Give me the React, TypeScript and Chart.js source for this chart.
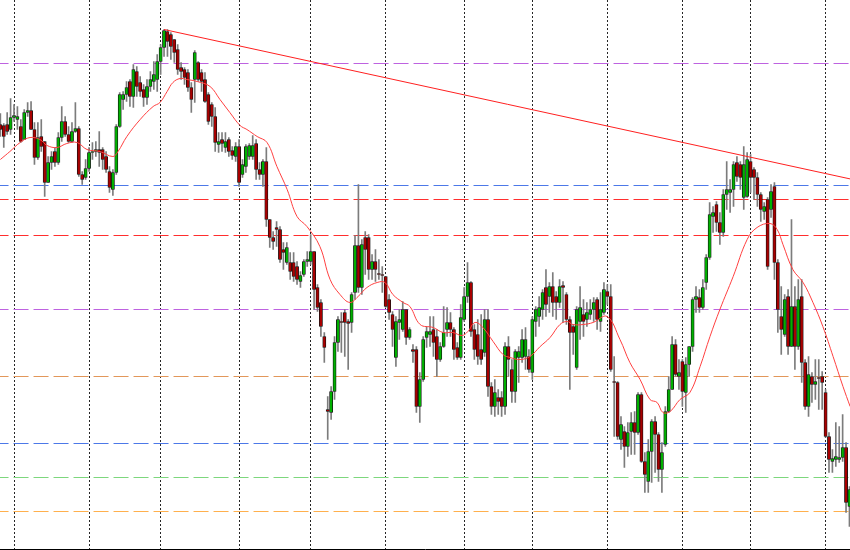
import React, { useEffect, useRef } from "react";
import { Chart, registerables } from "chart.js";
Chart.register(...registerables);

// Daily candles (price in points)
const opens = [
  425,424,425,420,432,430,423,410,437,439,
  420,392,413,408,367,387,398,387,412,428,
  415,408,418,421,375,372,381,397,398,400,
  400,393,378,360,377,423,450,455,468,453,
  478,467,460,452,463,468,470,488,502,518,
  515,510,500,482,480,477,462,470,487,477,
  470,455,445,433,405,410,402,410,399,393,
  403,375,383,393,393,406,380,375,388,330,
  312,322,320,300,287,287,287,283,268,275,
  288,288,298,262,247,213,140,137,158,207,
  228,237,228,227,257,304,262,312,312,280,
  288,276,275,273,250,235,192,227,220,240,
  212,200,200,143,170,212,215,220,213,190,
  203,220,227,220,202,192,230,253,267,220,
  215,200,197,230,163,143,152,152,143,203,
  180,158,192,192,193,193,177,228,233,240,
  262,253,263,253,247,264,255,230,223,182,
  228,235,230,235,240,250,228,237,258,253,
  168,167,110,118,103,118,127,117,155,88,
  68,98,128,115,80,105,138,160,205,173,
  188,157,185,203,250,252,242,267,292,333,
  345,327,317,355,357,360,387,385,352,353,
  388,380,372,355,338,350,340,363,287,233,
  215,253,203,243,203,253,187,143,173,165,
  172,173,157,113,88,90,90,92,102,43,
];
const highs = [
  436,426,437,451,445,443,430,440,447,448,
  427,427,430,408,393,398,402,417,443,433,
  423,427,447,423,378,390,402,407,408,418,
  402,398,383,380,425,457,458,468,470,485,
  483,473,465,470,478,488,495,505,520,520,
  517,510,505,487,482,480,467,499,488,480,
  477,457,447,442,417,417,417,412,403,407,
  410,390,405,406,414,410,387,390,402,330,
  318,328,323,307,307,297,297,288,278,290,
  298,315,298,265,250,217,153,163,213,233,
  237,240,230,257,314,365,310,318,315,295,
  300,290,283,273,255,238,233,240,248,240,
  222,205,203,177,213,223,233,233,220,207,
  243,242,237,222,207,245,262,287,268,225,
  230,235,240,240,167,170,160,158,207,213,
  190,200,203,220,222,200,233,243,253,260,
  280,267,277,258,270,268,257,233,225,243,
  263,250,247,250,252,252,257,267,265,265,
  193,168,133,123,127,137,138,157,157,97,
  110,130,133,117,107,143,173,213,210,190,
  190,192,203,252,263,260,270,295,347,343,
  348,337,360,388,370,388,393,388,403,397,
  395,382,377,357,347,352,365,367,290,263,
  255,260,330,263,270,270,190,193,177,190,
  190,178,160,117,100,127,123,135,107,63,
];
const lows = [
  413,402,415,415,428,420,407,410,433,420,
  385,390,398,353,367,380,383,385,408,413,
  407,407,417,373,365,370,378,390,393,383,
  380,377,357,354,375,422,440,448,443,442,
  453,453,443,445,458,460,458,475,493,493,
  490,487,475,470,465,458,437,447,468,458,
  447,425,423,398,397,398,397,393,390,388,
  363,372,377,390,390,370,370,363,323,302,
  300,303,287,280,285,270,268,265,262,273,
  283,285,240,238,213,187,110,130,150,198,
  197,193,180,217,250,257,255,275,270,270,
  268,270,257,242,230,203,183,210,218,205,
  210,187,137,127,168,202,203,193,173,188,
  202,213,213,190,190,190,228,247,213,190,
  185,185,193,153,135,133,135,133,135,173,
  147,147,167,187,180,177,170,213,223,230,
  233,237,233,230,242,227,225,160,195,180,
  210,213,223,230,228,220,218,235,245,178,
  113,110,100,82,93,95,95,115,87,57,
  57,67,77,68,57,103,137,160,173,160,
  143,137,173,198,237,237,240,260,290,317,
  318,305,313,340,337,343,368,360,340,352,
  357,350,343,328,330,280,332,270,217,195,
  213,195,203,180,200,167,140,133,147,150,
  140,140,112,77,77,83,87,88,37,23,
];
const closes = [
  420,413,418,432,434,433,408,437,439,420,
  392,412,403,367,387,393,387,412,428,415,
  408,418,421,375,370,381,397,398,400,397,
  390,380,362,377,423,455,455,462,453,480,
  463,458,452,463,470,475,488,502,519,508,
  503,497,480,478,472,462,450,497,470,468,
  448,428,433,407,408,406,408,398,394,403,
  367,385,403,404,404,380,375,388,330,312,
  308,320,290,297,302,278,273,270,274,288,
  290,298,260,242,223,202,138,158,207,230,
  227,227,226,255,304,262,305,300,280,288,
  280,275,274,243,237,220,228,230,240,212,
  220,198,143,170,210,218,218,207,190,203,
  217,227,220,200,192,232,253,267,218,200,
  193,190,230,163,143,157,148,143,203,190,
  158,198,198,210,210,180,230,240,242,257,
  245,263,247,247,263,262,230,217,217,240,
  242,228,237,240,247,230,240,260,253,180,
  167,113,125,103,117,127,117,155,88,75,
  98,128,115,80,97,138,160,205,175,177,
  158,185,203,250,253,242,262,292,335,337,
  327,317,355,360,360,385,373,372,385,390,
  372,372,355,340,343,283,358,287,240,220,
  250,203,243,203,250,187,143,175,165,168,
  171,167,113,90,91,93,92,102,47,60,
];

// Bar indices where a new month starts (vertical separators)
const monthStarts = [4, 26, 47, 70, 91, 113, 136, 156, 178, 200, 220, 242];

// Moving average (bar index, value)
const maIdx = [
  0,2.8,5.8,8.7,11.6,13.7,16.6,19.5,22.5,25.4,
  29.2,33,34.5,37.1,41,44.8,46.8,48.9,50.6,52.7,
  54.7,57.7,61.5,64.4,67.3,70.3,72.3,75.3,78.2,81.1,
  84.1,87,89.9,93.7,96.7,99.6,102.5,104.9,107.5,110.5,
  112.8,115.1,118.1,120.1,123.1,126.9,129.8,132.7,135.4,137.1,
  139.2,141.5,144.5,147.4,149.5,152.4,155.3,158.3,161.2,164.1,
  166.2,167.9,170.9,173.8,177.9,181.7,184.6,187.6,190.5,192.6,
  194.3,196.4,199.3,202.2,205.2,208.1,211,214.9,219,221.9,
  225.7,227.8,229.5,232.4,235.4,238.3,241.2,244.2,247.1,249.2,
];
const maVal = [
  390,398,407,412,410,404,402,406,407,400,
  398,393,398,413,430,443,447,458,467,471,
  470,468,463,450,437,424,420,413,407,383,
  360,333,323,303,270,255,247,253,262,267,
  267,255,247,243,225,222,217,217,214,218,
  227,222,208,195,192,190,193,203,212,225,
  228,225,225,227,233,210,187,170,150,147,
  137,138,150,157,183,213,240,273,310,322,
  326,320,305,280,267,247,223,193,163,143,
];

// Trend line endpoints (bar index, value)
const trendIdx = [48, 250];
const trendVal = [520, 370];

// Horizontal levels
const levels = [486, 364, 350, 314, 240, 173, 106, 72, 38];
const levelColors = [
  "#BE62E0", "#4C78E8", "#FF2E2E", "#FF2E2E", "#BE62E0",
  "#E2975A", "#4C78E8", "#7DD77D", "#FFB04D",
];

export default function App() {
  const ref = useRef<HTMLCanvasElement>(null);
  useEffect(() => {
    document.body.style.margin = "0";
    const canvas = ref.current;
    if (!canvas) return;
    const wicks = opens.map((_, i) => ({ x: i, y: [lows[i], highs[i]] }));
    const bodies = opens.map((o, i) => ({ x: i, y: [o, closes[i]] }));
    const bodyColors = opens.map((o, i) => (closes[i] >= o ? "#00B000" : "#A80000"));
    const levelSets = levels.map((lv, k) => ({
      type: "line" as const,
      data: [{ x: -2, y: lv }, { x: 252, y: lv }],
      borderColor: levelColors[k],
      borderWidth: 1,
      borderDash: [15, 5],
      pointRadius: 0,
      order: 4,
    }));
    const chart = new Chart(canvas, {
      type: "bar",
      data: {
        datasets: [
          {
            type: "line",
            data: maIdx.map((x, i) => ({ x, y: maVal[i] })),
            borderColor: "#FF4040",
            borderWidth: 1,
            pointRadius: 0,
            tension: 0.4,
            order: 0,
          } as any,
          {
            type: "line",
            data: trendIdx.map((x, i) => ({ x, y: trendVal[i] })),
            borderColor: "#FF2020",
            borderWidth: 1,
            pointRadius: 0,
            order: 0,
          } as any,
          {
            type: "bar",
            data: bodies,
            backgroundColor: bodyColors,
            borderColor: "#111111",
            borderWidth: 0.8,
            borderSkipped: false,
            barThickness: 3.2,
            grouped: false,
            order: 1,
          } as any,
          {
            type: "bar",
            data: wicks,
            backgroundColor: "#7C7C7C",
            barThickness: 1,
            grouped: false,
            order: 2,
          } as any,
          ...(levelSets as any[]),
        ],
      },
      options: {
        animation: false,
        responsive: false,
        maintainAspectRatio: false,
        layout: { padding: { top: 0, left: 0, right: 0, bottom: 0.5 } },
        plugins: { legend: { display: false }, tooltip: { enabled: false } },
        scales: {
          x: {
            type: "linear",
            offset: false,
            min: -0.106,
            max: 249.16,
            afterBuildTicks: (scale: any) => {
              scale.ticks = monthStarts.map((v) => ({ value: v }));
            },
            ticks: { display: false },
            grid: { color: "rgba(0,0,0,0.85)", drawTicks: false, lineWidth: 1, offset: false },
            border: { display: true, color: "#000000", width: 1, dash: [2, 2] },
          },
          y: { display: false, min: 0, max: 549.5 },
        },
      } as any,
    });
    return () => chart.destroy();
  }, []);
  return (
    <div style={{ position: "fixed", left: 0, top: 0, width: 850, height: 550, background: "#ffffff" }}>
      <canvas ref={ref} width={850} height={550} style={{ display: "block" }} />
    </div>
  );
}
